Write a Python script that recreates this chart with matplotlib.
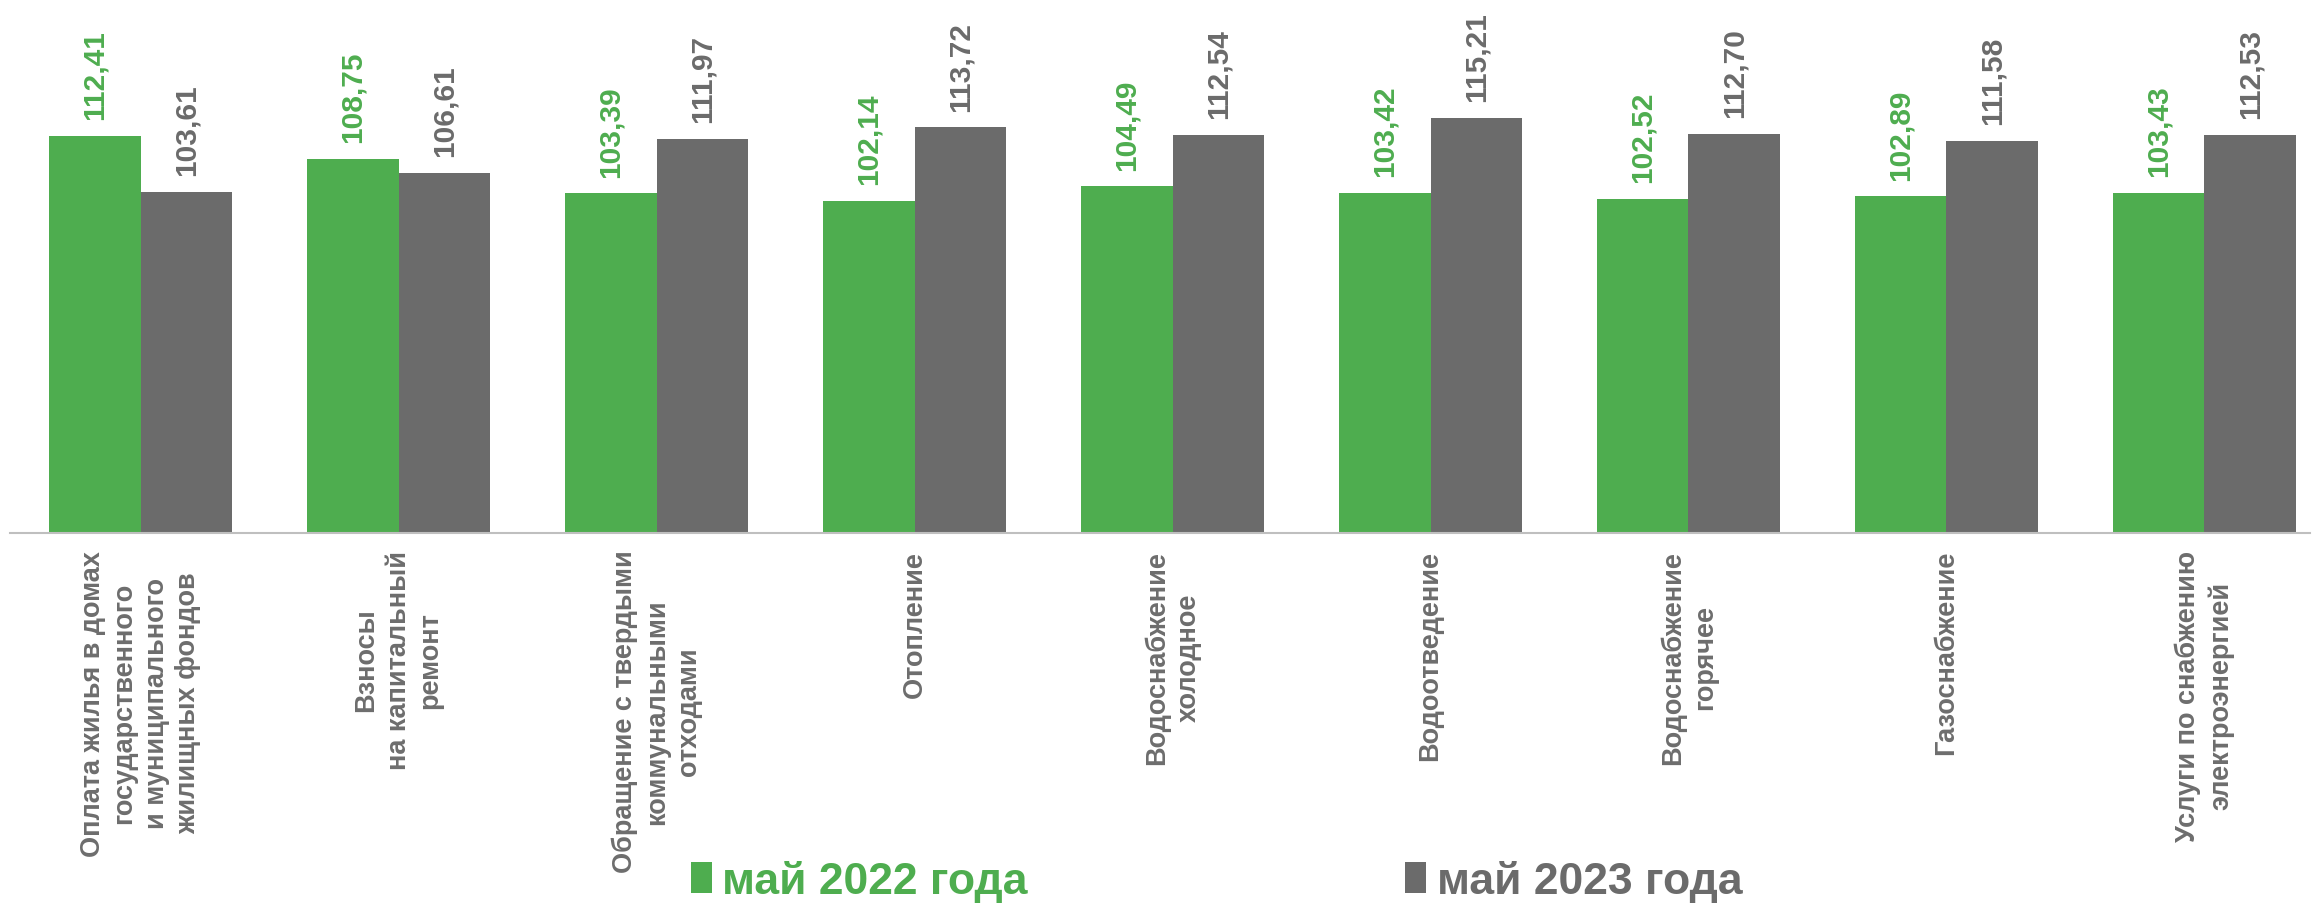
import numpy as np
import matplotlib
matplotlib.use("Agg")
from matplotlib import pyplot as plt

# данные
categories = [
    "Оплата жилья в домах\nгосударственного\nи муниципального\nжилищных фондов",
    "Взносы\nна капитальный\nремонт",
    "Обращение с твердыми\nкоммунальными\nотходами",
    "Отопление",
    "Водоснабжение\nхолодное",
    "Водоотведение",
    "Водоснабжение\nгорячее",
    "Газоснабжение",
    "Услуги по снабжению\nэлектроэнергией",
]
may_2022 = [112.41, 108.75, 103.39, 102.14, 104.49, 103.42, 102.52, 102.89, 103.43]
may_2023 = [103.61, 106.61, 111.97, 113.72, 112.54, 115.21, 112.70, 111.58, 112.53]
series_names = ["май 2022 года", "май 2023 года"]

green = "#4EAD4F"
gray = "#6B6B6B"
label_gray = "#6D6D6D"

plt.rcParams['font.family'] = ['Liberation Sans', 'DejaVu Sans']

W, H = 2313, 904
fig = plt.figure(figsize=(W / 100, H / 100), dpi=100)
ax = fig.add_axes([10 / W, (H - 534) / H, 2300 / W, 534 / H])

x = np.arange(len(categories))
w = 0.355
b1 = ax.bar(x - w / 2, may_2022, w, color=green, label=series_names[0])
b2 = ax.bar(x + w / 2, may_2023, w, color=gray, label=series_names[1])

fmt = lambda vals: [f"{v:.2f}".replace('.', ',') for v in vals]
ax.bar_label(b1, labels=fmt(may_2022), rotation=90, padding=12,
             color=green, fontsize=21.5, fontweight='bold')
ax.bar_label(b2, labels=fmt(may_2023), rotation=90, padding=12,
             color=gray, fontsize=21.5, fontweight='bold')

ax.set_ylim(50, 133.9)
ax.set_xlim(-0.506, 8.409)
ax.set_yticks([])
ax.set_xticks(x)
ax.set_xticklabels(categories, rotation=90, fontsize=19.5, fontweight='bold',
                   color=label_gray, multialignment='center', linespacing=1.3)
ax.tick_params(axis='x', length=0, pad=12)
for s in ['top', 'right', 'left']:
    ax.spines[s].set_visible(False)
ax.spines['bottom'].set_color('#BFBFBF')
ax.spines['bottom'].set_linewidth(1.5)

leg = fig.legend(handles=[b1, b2], loc='center', bbox_to_anchor=(0.526, 0.024),
                 ncol=2, frameon=False, handlelength=0.47, handleheight=0.68,
                 handletextpad=0.23, columnspacing=8.5, borderpad=0,
                 prop={'weight': 'bold', 'size': 32})
for t, c in zip(leg.get_texts(), [green, gray]):
    t.set_color(c)

fig.savefig("out.png", dpi=100)
